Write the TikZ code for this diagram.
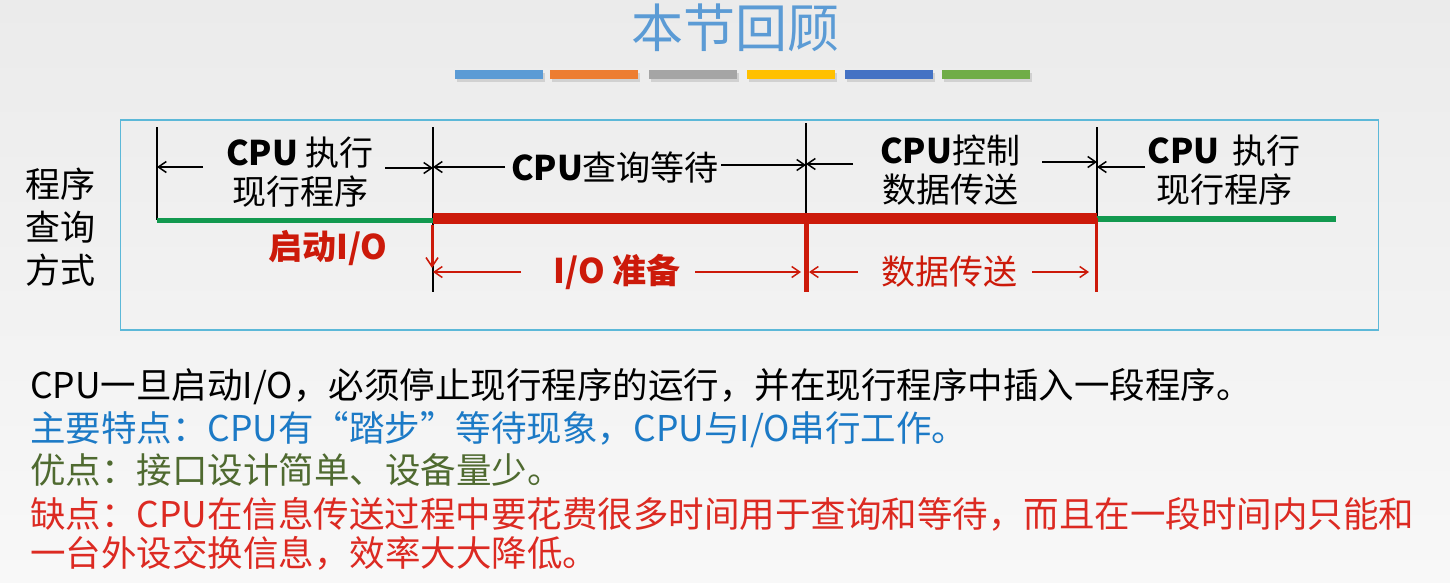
\documentclass[tikz,border=0pt]{standalone}
\usepackage{fontspec}
\usetikzlibrary{arrows.meta}
\newfontfamily\cjk{Noto Sans CJK SC}

\definecolor{bgtop}{HTML}{EBEBEB}
\definecolor{bgbot}{HTML}{F8F8F8}
\definecolor{titleblue}{HTML}{5B9BD5}
\definecolor{barA}{HTML}{5B9BD5}
\definecolor{barB}{HTML}{ED7D31}
\definecolor{barC}{HTML}{A5A5A5}
\definecolor{barD}{HTML}{FFC000}
\definecolor{barE}{HTML}{4472C4}
\definecolor{barF}{HTML}{70AD47}
\definecolor{framecol}{HTML}{5CB8D8}
\definecolor{runGreen}{HTML}{12994F}
\definecolor{ioRed}{HTML}{CC1A0A}
\definecolor{txtBlue}{HTML}{1C7AC6}
\definecolor{txtOlive}{HTML}{4F6A30}
\definecolor{txtRed}{HTML}{DC2A22}

\tikzset{
  titletext/.style={text=titleblue, font=\cjk\fontsize{52}{58}\selectfont, inner sep=0pt},
  sidetext/.style={align=center, font=\cjk\fontsize{35}{43}\selectfont, inner sep=0pt},
  phase/.style={align=center, font=\cjk\fontsize{34}{39}\selectfont, inner sep=0pt},
  iophase/.style={text=ioRed, font=\cjk\bfseries\fontsize{34}{39}\selectfont, inner sep=0pt},
  note/.style={anchor=west, font=\cjk\fontsize{35.5}{42}\selectfont, inner sep=0pt},
  tick/.style={draw=black, line width=1.8pt},
  dim/.style={draw=black, line width=1.5pt, -{Straight Barb[length=8pt,width=11pt,line width=1.5pt]}},
  iodim/.style={draw=ioRed, line width=1.5pt, -{Straight Barb[length=8pt,width=11pt,line width=1.5pt]}},
  colorbar/.style={inner sep=0pt, minimum width=88pt, minimum height=9pt},
}

\begin{document}
\begin{tikzpicture}[x=1pt, y=-1pt]
\useasboundingbox (0,0) rectangle (1450,582);
\shade[top color=bgtop, bottom color=bgbot] (0,0) rectangle (1450,582);

% heading and the row of coloured bars under it
\node[titletext] (title) at (735,28) {本节回顾};
\foreach \cx/\col [count=\i] in {499/barA, 594/barB, 693/barC, 791/barD, 889/barE, 986/barF}{
  \fill[black!25, opacity=0.6] (\cx-42,73) rectangle (\cx+46,82);
  \node[colorbar, fill=\col] (bar\i) at (\cx,74.5) {};
}

% frame around the timing chart
\node[draw=framecol, line width=1.5pt, minimum width=1258pt, minimum height=210pt, inner sep=0pt] (frame) at (749.5,225) {};
\node[sidetext] (mode) at (60,227) {程序\\查询\\方式};

% phase boundaries on the time axis
\coordinate (p0) at (157,220);
\coordinate (p1) at (433,220);
\coordinate (p2) at (806,220);
\coordinate (p3) at (1097,220);
\coordinate (pend) at (1336,220);
\coordinate (p0top) at (157,127);
\coordinate (p1top) at (433,127);
\coordinate (p2top) at (806,123);
\coordinate (p3top) at (1097,127);
\coordinate (p1bot) at (433,292);
\coordinate (p2bot) at (806,292);
\coordinate (p3bot) at (1097,292);

\draw[tick] (p0top) -- (p0);
\draw[tick] (p1top) -- (p1bot);
\draw[tick] (p2top) -- (p2bot);
\draw[tick] (p3top) -- (p3bot);

% CPU running (green) and I/O busy (red)
\draw[runGreen, line width=5pt] (p0) -- (p1);
\draw[runGreen, line width=6pt] ([yshift=1pt]p3) -- ([yshift=1pt]pend);
\draw[ioRed, line width=11pt] ([yshift=2pt]p1) -- ([yshift=2pt]p3);
\draw[ioRed, line width=5pt] ([yshift=2pt]p2) -- (p2bot);
\draw[ioRed, line width=3pt] ([xshift=-1pt,yshift=2pt]p3) -- ([xshift=-1pt]p3bot);
\coordinate (start) at (432,225);
\coordinate (startend) at (432,268);
\draw[iodim, line width=3pt, -{Straight Barb[length=9pt,width=12pt,line width=1.6pt]}] (start) -- (startend);

% CPU phases above the axis
\node[phase] (run1) at (300,172) {\textbf{CPU} 执行\\现行程序};
\node[phase] (wait) at (615,167) {\textbf{CPU}查询等待};
\node[phase] (ctrl) at (950,170) {\textbf{CPU}控制\\数据传送};
\node[phase] (run2) at (1224,170) {\textbf{CPU}\, 执行\\现行程序};

\coordinate (r1l) at (203,167);
\coordinate (r1r) at (385,168);
\coordinate (wl) at (505,167);
\coordinate (wr) at (721,165);
\coordinate (cl) at (853,164);
\coordinate (cr) at (1042,162);
\coordinate (r2l) at (1145,167);

\draw[dim] (r1l) -- (r1l -| p0);
\draw[dim] (r1r) -- (r1r -| p1);
\draw[dim] (wl) -- (wl -| p1);
\draw[dim] (wr) -- (wr -| p2);
\draw[dim] (cl) -- (cl -| p2);
\draw[dim] (cr) -- (cr -| p3);
\draw[dim] (r2l) -- (r2l -| p3);

% I/O phases below the axis
\node[iophase] (kick) at (328,248) {启动I/O};
\node[iophase] (prep) at (617,272) {I/O 准备};
\node[iophase, font=\cjk\fontsize{34}{39}\selectfont] (xfer) at (949,272) {数据传送};

\coordinate (pl) at (521,272);
\coordinate (pr) at (695,272);
\coordinate (xl) at (858,272);
\coordinate (xr) at (1032,272);
\draw[iodim] (pl) -- (pl -| p1);
\draw[iodim] (pr) -- ([xshift=-5pt]pr -| p2);
\draw[iodim] (xl) -- ([xshift=3pt]xl -| p2);
\draw[iodim] (xr) -- ([xshift=-8pt]xr -| p3);

% summary text
\node[note] (n1) at (30,387) {CPU一旦启动I/O，必须停止现行程序的运行，并在现行程序中插入一段程序。};
\node[note, text=txtBlue] (n2) at (30,430) {主要特点：CPU有“踏步”等待现象，CPU与I/O串行工作。};
\node[note, text=txtOlive] (n3) at (30,470) {优点：接口设计简单、设备量少。};
\node[note, text=txtRed] (n4) at (30,514) {缺点：CPU在信息传送过程中要花费很多时间用于查询和等待，而且在一段时间内只能和};
\node[note, text=txtRed] (n5) at (30,553) {一台外设交换信息，效率大大降低。};
\end{tikzpicture}
\end{document}
